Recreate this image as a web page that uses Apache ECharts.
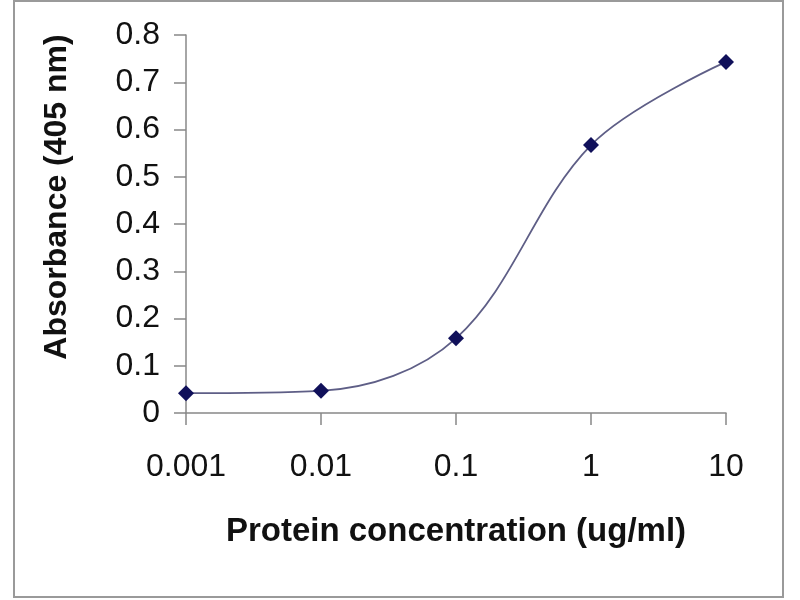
<!DOCTYPE html>
<html>
<head>
<meta charset="utf-8">
<script src="https://cdn.jsdelivr.net/npm/echarts@6/dist/echarts.min.js"></script>
<style>html,body{margin:0;padding:0;background:#fff}#c{width:800px;height:600px}</style>
</head>
<body>
<div id="c"></div>
<script>
var concentrations = [0.001, 0.01, 0.1, 1, 10];
var absorbance = [0.042, 0.047, 0.158, 0.567, 0.743];
var xTitle = 'Protein concentration (ug/ml)';
var yTitle = 'Absorbance (405 nm)';

var FONT = '"Liberation Sans", Arial, sans-serif';
var chart = echarts.init(document.getElementById('c'));
var pts = concentrations.map(function (c, i) { return [c, absorbance[i]]; });
chart.setOption({
  animation: false,
  backgroundColor: '#fff',
  grid: { left: 186, right: 74, top: 35, bottom: 187, containLabel: false },
  graphic: [{
    type: 'rect', shape: { x: 14, y: 1, width: 769, height: 596 },
    style: { fill: 'none', stroke: '#9a9a9a', lineWidth: 2 }, silent: true
  }],
  xAxis: {
    type: 'log', logBase: 10, min: 0.001, max: 10,
    name: xTitle, nameLocation: 'middle', nameGap: 102,
    nameTextStyle: { fontFamily: FONT, fontSize: 33, fontWeight: 'bold', color: '#111' },
    axisLine: { lineStyle: { color: '#888', width: 1.5 } },
    axisTick: { show: true, length: 12, lineStyle: { color: '#888', width: 1.5 } },
    minorTick: { show: false },
    splitLine: { show: false },
    axisLabel: {
      fontFamily: FONT, fontSize: 32, color: '#111', margin: 38,
      formatter: function (v) { return String(+v.toPrecision(6)); }
    }
  },
  yAxis: {
    type: 'value', min: 0, max: 0.8, interval: 0.1,
    name: yTitle, nameLocation: 'middle', nameGap: 113,
    nameTextStyle: { fontFamily: FONT, fontSize: 32, fontWeight: 'bold', color: '#111', padding: [0, 0, 0, 54] },
    axisLine: { show: true, lineStyle: { color: '#888', width: 1.5 } },
    axisTick: { show: true, length: 12, lineStyle: { color: '#888', width: 1.5 } },
    splitLine: { show: false },
    axisLabel: {
      fontFamily: FONT, fontSize: 32, color: '#111', margin: 26,
      formatter: function (v) { return String(+v.toFixed(1)); }
    }
  },
  series: [{
    type: 'line', data: pts, smooth: 0.35,
    symbol: 'diamond', symbolSize: 16,
    itemStyle: { color: '#10105a' },
    lineStyle: { color: '#5e5e86', width: 1.8 }
  }]
});
</script>
</body>
</html>
